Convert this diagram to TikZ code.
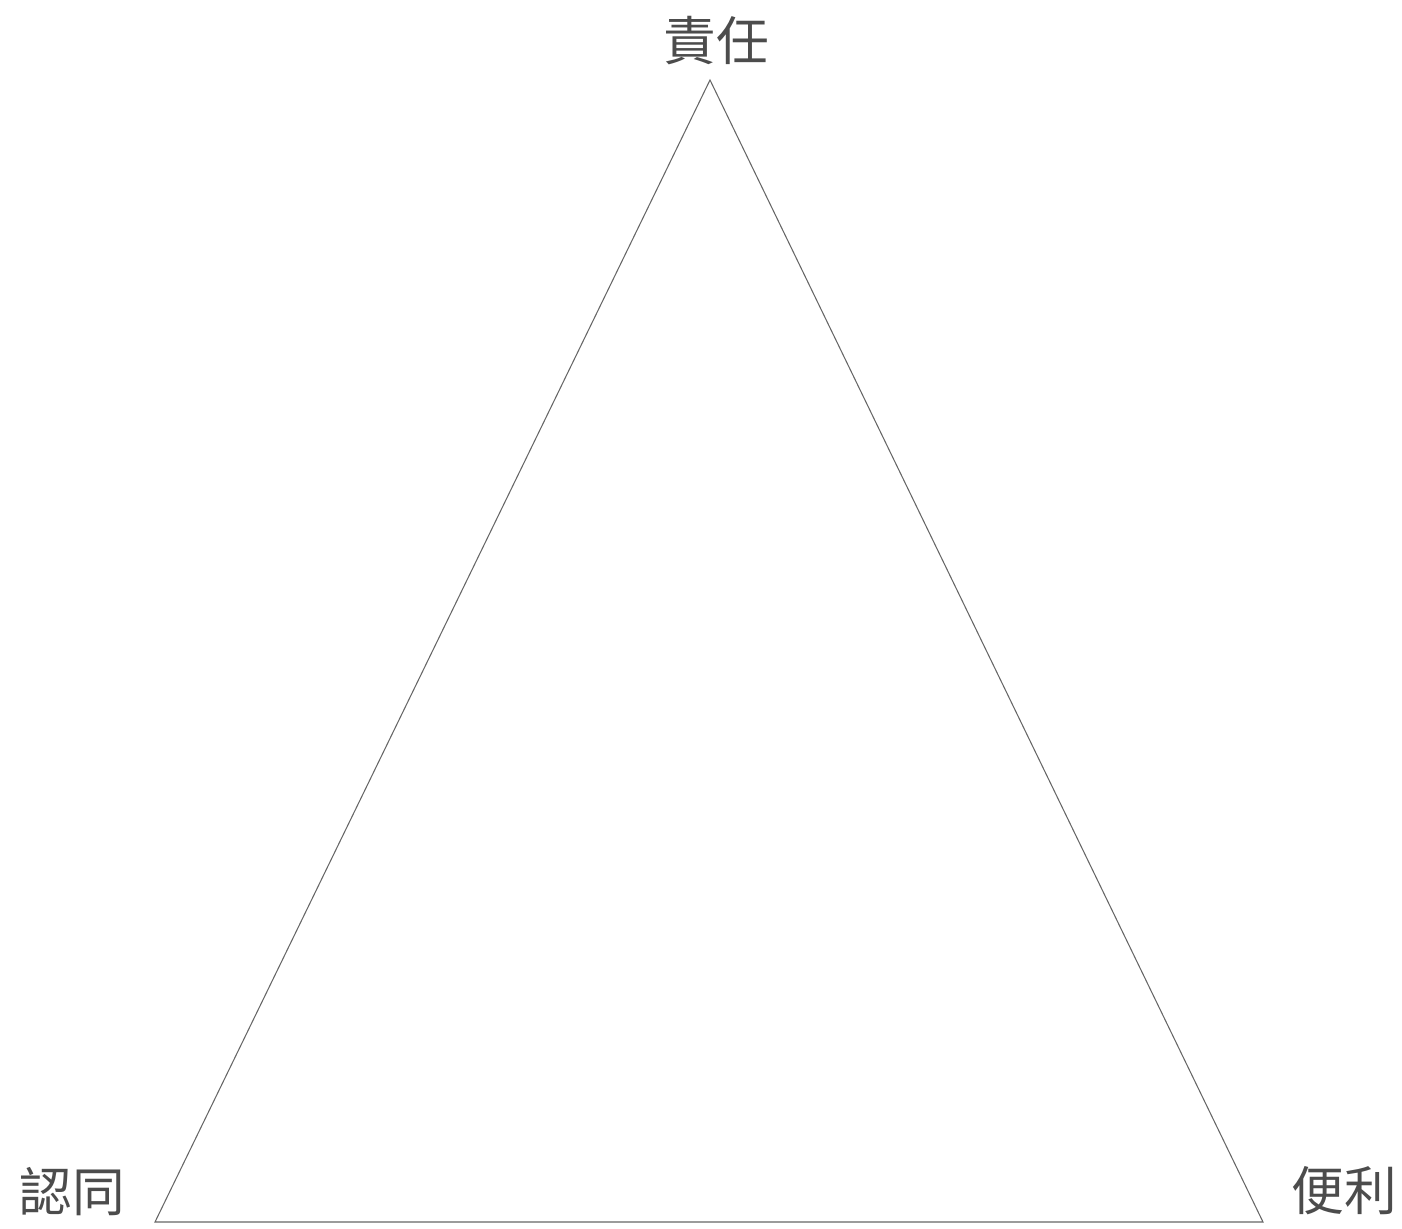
\documentclass[tikz,border=0pt]{standalone}
\usepackage{fontspec}
\newfontfamily\cjk{Noto Sans CJK TC}
\usetikzlibrary{positioning}
\usepackage{xcolor}

\begin{document}
\begin{tikzpicture}[x=0.02cm, y=-0.02cm,
  corner/.style={font=\cjk\fontsize{30}{30}\selectfont, text=black!70, inner sep=0pt}]
  \useasboundingbox (0,0) rectangle (1402,1229);

  \coordinate (top) at (710,80);
  \coordinate (left) at (155,1222);
  \coordinate (right) at (1263,1222);

  \node[corner] (duty) at (716,41) {責任};
  \node[corner] (identity) at (72,1192) {認同};
  \node[corner] (convenience) at (1344,1191) {便利};

  \draw[black!60, line width=0.6pt] (top) -- (left) -- (right) -- cycle;
\end{tikzpicture}
\end{document}
